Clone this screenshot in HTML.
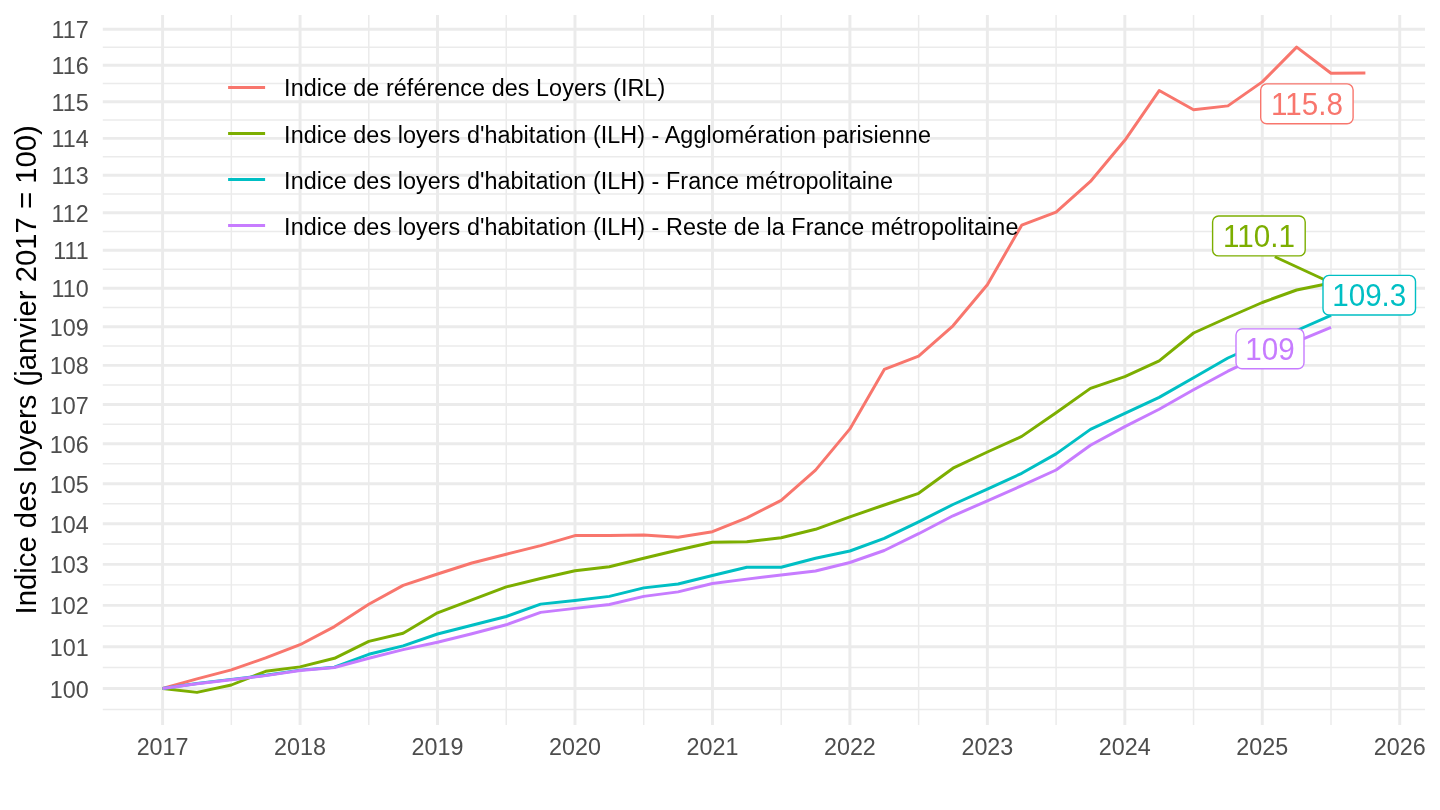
<!DOCTYPE html><html><head><meta charset="utf-8"><style>html,body{margin:0;padding:0;background:#fff;width:1440px;height:810px;overflow:hidden}svg{display:block;will-change:transform}text{font-family:"Liberation Sans",sans-serif}</style></head><body>
<svg width="1440" height="810" viewBox="0 0 1440 810">
<rect width="1440" height="810" fill="#fff"/>
<defs><clipPath id="pc"><rect x="102.8" y="15.0" width="1322.2" height="710.0"/></clipPath></defs>
<g><line x1="102.8" y1="667.61" x2="1425.0" y2="667.61" stroke="#EBEBEB" stroke-width="1.48"/><line x1="102.8" y1="626.04" x2="1425.0" y2="626.04" stroke="#EBEBEB" stroke-width="1.48"/><line x1="102.8" y1="584.87" x2="1425.0" y2="584.87" stroke="#EBEBEB" stroke-width="1.48"/><line x1="102.8" y1="544.11" x2="1425.0" y2="544.11" stroke="#EBEBEB" stroke-width="1.48"/><line x1="102.8" y1="503.74" x2="1425.0" y2="503.74" stroke="#EBEBEB" stroke-width="1.48"/><line x1="102.8" y1="463.75" x2="1425.0" y2="463.75" stroke="#EBEBEB" stroke-width="1.48"/><line x1="102.8" y1="424.14" x2="1425.0" y2="424.14" stroke="#EBEBEB" stroke-width="1.48"/><line x1="102.8" y1="384.90" x2="1425.0" y2="384.90" stroke="#EBEBEB" stroke-width="1.48"/><line x1="102.8" y1="346.02" x2="1425.0" y2="346.02" stroke="#EBEBEB" stroke-width="1.48"/><line x1="102.8" y1="307.50" x2="1425.0" y2="307.50" stroke="#EBEBEB" stroke-width="1.48"/><line x1="102.8" y1="269.33" x2="1425.0" y2="269.33" stroke="#EBEBEB" stroke-width="1.48"/><line x1="102.8" y1="231.50" x2="1425.0" y2="231.50" stroke="#EBEBEB" stroke-width="1.48"/><line x1="102.8" y1="194.01" x2="1425.0" y2="194.01" stroke="#EBEBEB" stroke-width="1.48"/><line x1="102.8" y1="156.86" x2="1425.0" y2="156.86" stroke="#EBEBEB" stroke-width="1.48"/><line x1="102.8" y1="120.03" x2="1425.0" y2="120.03" stroke="#EBEBEB" stroke-width="1.48"/><line x1="102.8" y1="83.52" x2="1425.0" y2="83.52" stroke="#EBEBEB" stroke-width="1.48"/><line x1="102.8" y1="47.32" x2="1425.0" y2="47.32" stroke="#EBEBEB" stroke-width="1.48"/><line x1="102.8" y1="709.60" x2="1425.0" y2="709.60" stroke="#EBEBEB" stroke-width="1.48"/><line x1="231.33" y1="15.0" x2="231.33" y2="725.0" stroke="#EBEBEB" stroke-width="1.48"/><line x1="368.79" y1="15.0" x2="368.79" y2="725.0" stroke="#EBEBEB" stroke-width="1.48"/><line x1="506.25" y1="15.0" x2="506.25" y2="725.0" stroke="#EBEBEB" stroke-width="1.48"/><line x1="643.71" y1="15.0" x2="643.71" y2="725.0" stroke="#EBEBEB" stroke-width="1.48"/><line x1="781.17" y1="15.0" x2="781.17" y2="725.0" stroke="#EBEBEB" stroke-width="1.48"/><line x1="918.63" y1="15.0" x2="918.63" y2="725.0" stroke="#EBEBEB" stroke-width="1.48"/><line x1="1056.09" y1="15.0" x2="1056.09" y2="725.0" stroke="#EBEBEB" stroke-width="1.48"/><line x1="1193.55" y1="15.0" x2="1193.55" y2="725.0" stroke="#EBEBEB" stroke-width="1.48"/><line x1="1331.01" y1="15.0" x2="1331.01" y2="725.0" stroke="#EBEBEB" stroke-width="1.48"/><line x1="102.8" y1="688.50" x2="1425.0" y2="688.50" stroke="#EBEBEB" stroke-width="2.96"/><line x1="102.8" y1="646.72" x2="1425.0" y2="646.72" stroke="#EBEBEB" stroke-width="2.96"/><line x1="102.8" y1="605.36" x2="1425.0" y2="605.36" stroke="#EBEBEB" stroke-width="2.96"/><line x1="102.8" y1="564.39" x2="1425.0" y2="564.39" stroke="#EBEBEB" stroke-width="2.96"/><line x1="102.8" y1="523.83" x2="1425.0" y2="523.83" stroke="#EBEBEB" stroke-width="2.96"/><line x1="102.8" y1="483.65" x2="1425.0" y2="483.65" stroke="#EBEBEB" stroke-width="2.96"/><line x1="102.8" y1="443.85" x2="1425.0" y2="443.85" stroke="#EBEBEB" stroke-width="2.96"/><line x1="102.8" y1="404.43" x2="1425.0" y2="404.43" stroke="#EBEBEB" stroke-width="2.96"/><line x1="102.8" y1="365.37" x2="1425.0" y2="365.37" stroke="#EBEBEB" stroke-width="2.96"/><line x1="102.8" y1="326.67" x2="1425.0" y2="326.67" stroke="#EBEBEB" stroke-width="2.96"/><line x1="102.8" y1="288.33" x2="1425.0" y2="288.33" stroke="#EBEBEB" stroke-width="2.96"/><line x1="102.8" y1="250.33" x2="1425.0" y2="250.33" stroke="#EBEBEB" stroke-width="2.96"/><line x1="102.8" y1="212.67" x2="1425.0" y2="212.67" stroke="#EBEBEB" stroke-width="2.96"/><line x1="102.8" y1="175.35" x2="1425.0" y2="175.35" stroke="#EBEBEB" stroke-width="2.96"/><line x1="102.8" y1="138.36" x2="1425.0" y2="138.36" stroke="#EBEBEB" stroke-width="2.96"/><line x1="102.8" y1="101.69" x2="1425.0" y2="101.69" stroke="#EBEBEB" stroke-width="2.96"/><line x1="102.8" y1="65.34" x2="1425.0" y2="65.34" stroke="#EBEBEB" stroke-width="2.96"/><line x1="102.8" y1="29.30" x2="1425.0" y2="29.30" stroke="#EBEBEB" stroke-width="2.96"/><line x1="162.60" y1="15.0" x2="162.60" y2="725.0" stroke="#EBEBEB" stroke-width="2.96"/><line x1="300.06" y1="15.0" x2="300.06" y2="725.0" stroke="#EBEBEB" stroke-width="2.96"/><line x1="437.52" y1="15.0" x2="437.52" y2="725.0" stroke="#EBEBEB" stroke-width="2.96"/><line x1="574.98" y1="15.0" x2="574.98" y2="725.0" stroke="#EBEBEB" stroke-width="2.96"/><line x1="712.44" y1="15.0" x2="712.44" y2="725.0" stroke="#EBEBEB" stroke-width="2.96"/><line x1="849.90" y1="15.0" x2="849.90" y2="725.0" stroke="#EBEBEB" stroke-width="2.96"/><line x1="987.36" y1="15.0" x2="987.36" y2="725.0" stroke="#EBEBEB" stroke-width="2.96"/><line x1="1124.82" y1="15.0" x2="1124.82" y2="725.0" stroke="#EBEBEB" stroke-width="2.96"/><line x1="1262.28" y1="15.0" x2="1262.28" y2="725.0" stroke="#EBEBEB" stroke-width="2.96"/><line x1="1399.74" y1="15.0" x2="1399.74" y2="725.0" stroke="#EBEBEB" stroke-width="2.96"/></g>
<g clip-path="url(#pc)" fill="none" stroke-width="2.96" stroke-linejoin="round" stroke-linecap="butt">
<polyline points="162.60,688.50 196.97,678.84 231.33,669.87 265.69,657.93 300.06,644.71 334.43,626.60 368.79,604.31 403.15,585.39 437.52,574.02 471.88,563.00 506.25,554.27 540.62,545.56 574.98,535.58 609.35,535.58 643.71,534.94 678.08,537.19 712.44,531.72 746.81,517.93 781.17,500.36 815.54,470.17 849.90,428.90 884.27,369.45 918.63,356.18 953.00,325.78 987.36,284.69 1021.73,225.14 1056.09,212.02 1090.45,181.47 1124.82,140.29 1159.18,90.54 1193.55,109.67 1227.91,105.90 1262.28,81.87 1296.64,47.09 1331.01,73.22 1365.38,72.94" stroke="#F8766D"/>
<polyline points="162.60,688.50 196.97,692.40 231.33,685.00 265.69,671.30 300.06,666.90 334.43,658.30 368.79,641.40 403.15,633.20 437.52,612.80 471.88,599.80 506.25,586.90 540.62,578.50 574.98,570.80 609.35,566.70 643.71,558.30 678.08,550.00 712.44,542.20 746.81,541.80 781.17,537.70 815.54,529.30 849.90,516.80 884.27,505.00 918.63,493.30 953.00,468.20 987.36,452.00 1021.73,436.40 1056.09,412.70 1090.45,388.40 1124.82,376.60 1159.18,360.90 1193.55,333.00 1227.91,317.50 1262.28,302.50 1296.64,290.00 1331.01,283.00" stroke="#7CAE00"/>
<polyline points="162.60,688.50 196.97,683.50 231.33,679.40 265.69,675.30 300.06,670.10 334.43,667.20 368.79,654.30 403.15,645.90 437.52,634.00 471.88,625.20 506.25,616.50 540.62,604.10 574.98,600.50 609.35,596.40 643.71,587.90 678.08,584.00 712.44,575.50 746.81,567.30 781.17,567.30 815.54,558.20 849.90,551.00 884.27,538.40 918.63,521.80 953.00,504.50 987.36,489.20 1021.73,473.30 1056.09,453.90 1090.45,429.40 1124.82,413.30 1159.18,397.40 1193.55,377.70 1227.91,358.00 1262.28,342.50 1296.64,330.50 1331.01,315.40" stroke="#00BFC4"/>
<polyline points="162.60,688.50 196.97,683.80 231.33,679.70 265.69,675.60 300.06,670.50 334.43,667.50 368.79,658.30 403.15,649.60 437.52,642.30 471.88,633.70 506.25,624.80 540.62,612.40 574.98,608.40 609.35,604.50 643.71,596.40 678.08,591.90 712.44,583.50 746.81,579.10 781.17,575.00 815.54,571.00 849.90,562.50 884.27,550.50 918.63,533.70 953.00,515.80 987.36,500.90 1021.73,485.60 1056.09,470.00 1090.45,445.30 1124.82,426.60 1159.18,409.30 1193.55,389.80 1227.91,371.20 1262.28,354.80 1296.64,341.60 1331.01,327.30" stroke="#C77CFF"/>
</g>
<g fill="#4D4D4D" font-size="23.33"><text x="88.8" y="697.60" text-anchor="end">100</text><text x="88.8" y="655.82" text-anchor="end">101</text><text x="88.8" y="614.46" text-anchor="end">102</text><text x="88.8" y="573.49" text-anchor="end">103</text><text x="88.8" y="532.93" text-anchor="end">104</text><text x="88.8" y="492.75" text-anchor="end">105</text><text x="88.8" y="452.95" text-anchor="end">106</text><text x="88.8" y="413.53" text-anchor="end">107</text><text x="88.8" y="374.47" text-anchor="end">108</text><text x="88.8" y="335.77" text-anchor="end">109</text><text x="88.8" y="297.43" text-anchor="end">110</text><text x="88.8" y="259.43" text-anchor="end">111</text><text x="88.8" y="221.77" text-anchor="end">112</text><text x="88.8" y="184.45" text-anchor="end">113</text><text x="88.8" y="147.46" text-anchor="end">114</text><text x="88.8" y="110.79" text-anchor="end">115</text><text x="88.8" y="74.44" text-anchor="end">116</text><text x="88.8" y="38.40" text-anchor="end">117</text></g>
<g fill="#4D4D4D" font-size="23.33"><text x="162.60" y="755.2" text-anchor="middle">2017</text><text x="300.06" y="755.2" text-anchor="middle">2018</text><text x="437.52" y="755.2" text-anchor="middle">2019</text><text x="574.98" y="755.2" text-anchor="middle">2020</text><text x="712.44" y="755.2" text-anchor="middle">2021</text><text x="849.90" y="755.2" text-anchor="middle">2022</text><text x="987.36" y="755.2" text-anchor="middle">2023</text><text x="1124.82" y="755.2" text-anchor="middle">2024</text><text x="1262.28" y="755.2" text-anchor="middle">2025</text><text x="1399.74" y="755.2" text-anchor="middle">2026</text></g>
<text transform="translate(35.5,369.8) rotate(-90) scale(1,1.03)" text-anchor="middle" font-size="29.3" fill="#000">Indice des loyers (janvier 2017 = 100)</text>
<line x1="228.1" y1="87.4" x2="265.1" y2="87.4" stroke="#F8766D" stroke-width="2.96"/>
<text x="284.1" y="96.2" font-size="23.33" letter-spacing="0.07" fill="#000">Indice de référence des Loyers (IRL)</text>
<line x1="228.1" y1="133.4" x2="265.1" y2="133.4" stroke="#7CAE00" stroke-width="2.96"/>
<text x="284.1" y="142.9" font-size="23.33" letter-spacing="0.07" fill="#000">Indice des loyers d&#39;habitation (ILH) - Agglomération parisienne</text>
<line x1="228.1" y1="179.6" x2="265.1" y2="179.6" stroke="#00BFC4" stroke-width="2.96"/>
<text x="284.1" y="189.0" font-size="23.33" letter-spacing="0.07" fill="#000">Indice des loyers d&#39;habitation (ILH) - France métropolitaine</text>
<line x1="228.1" y1="225.6" x2="265.1" y2="225.6" stroke="#C77CFF" stroke-width="2.96"/>
<text x="284.1" y="234.6" font-size="23.33" letter-spacing="0.07" fill="#000">Indice des loyers d&#39;habitation (ILH) - Reste de la France métropolitaine</text>
<line x1="1274.8" y1="256.7" x2="1331.01" y2="282.8" stroke="#7CAE00" stroke-width="2.9"/>
<rect x="1260.70" y="83.90" width="92.40" height="39.90" rx="6" ry="6" fill="#fff" stroke="#F8766D" stroke-width="1.4"/>
<text transform="translate(1306.90,114.80) scale(1,1.03)" text-anchor="middle" font-size="29.64" fill="#F8766D">115.8</text>
<rect x="1212.60" y="216.00" width="92.60" height="39.90" rx="6" ry="6" fill="#fff" stroke="#7CAE00" stroke-width="1.4"/>
<text transform="translate(1258.90,246.90) scale(1,1.03)" text-anchor="middle" font-size="29.64" fill="#7CAE00">110.1</text>
<rect x="1323.00" y="275.40" width="92.50" height="39.60" rx="6" ry="6" fill="#fff" stroke="#00BFC4" stroke-width="1.4"/>
<text transform="translate(1369.25,306.30) scale(1,1.03)" text-anchor="middle" font-size="29.64" fill="#00BFC4">109.3</text>
<rect x="1236.00" y="328.90" width="68.00" height="39.90" rx="6" ry="6" fill="#fff" stroke="#C77CFF" stroke-width="1.4"/>
<text transform="translate(1270.00,359.80) scale(1,1.03)" text-anchor="middle" font-size="29.64" fill="#C77CFF">109</text>
</svg></body></html>
